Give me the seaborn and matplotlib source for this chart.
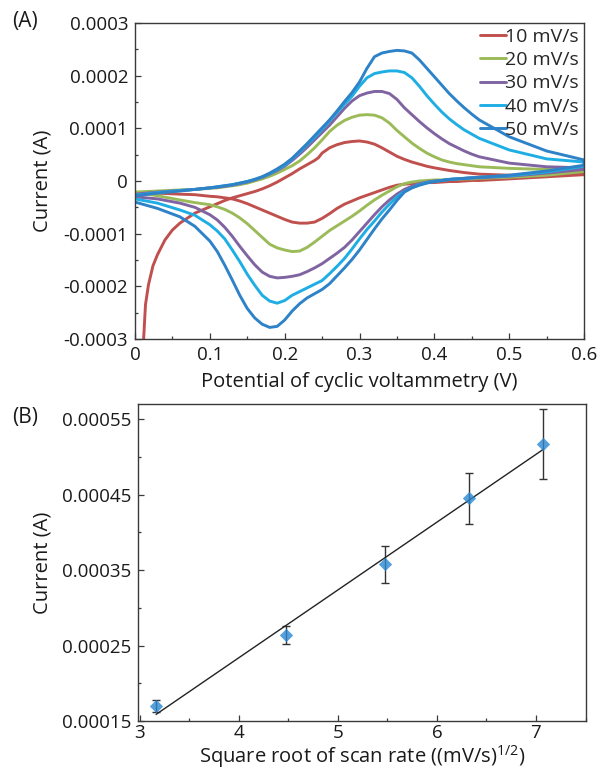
import numpy as np
import pandas as pd
import matplotlib
matplotlib.use("Agg")
import matplotlib.pyplot as plt
import seaborn as sns
from matplotlib.ticker import MultipleLocator, FixedLocator

# ---------------- Panel A : cyclic voltammograms ----------------
# current values in units of 1e-4 A
rates = ["10 mV/s", "20 mV/s", "30 mV/s", "40 mV/s", "50 mV/s"]
colors = ["#C0504D", "#9BBB59", "#8064A2", "#1EAEE4", "#2D82C8"]

E_grid = ([0.00, 0.03, 0.06, 0.08]
          + [0.10, 0.11, 0.12, 0.13, 0.14, 0.15, 0.16, 0.17, 0.18, 0.19]
          + [0.20, 0.21, 0.22, 0.23, 0.24, 0.25, 0.26, 0.27, 0.28, 0.29]
          + [0.30, 0.31, 0.32, 0.33, 0.34, 0.35, 0.36, 0.37, 0.38, 0.39]
          + [0.40, 0.41, 0.42, 0.43, 0.44, 0.45, 0.46]
          + [0.50, 0.55, 0.60])

# 10 mV/s forward sweep (own potentials: starts with a charging transient)
E_red_up = [0.010, 0.014, 0.018, 0.024, 0.03, 0.04, 0.05, 0.06, 0.08, 0.10,
            0.11, 0.12, 0.13, 0.14, 0.15, 0.16, 0.17, 0.18, 0.19, 0.20, 0.21, 0.22, 0.23, 0.24,
            0.245, 0.25,
            0.26, 0.27, 0.28, 0.29, 0.30, 0.31, 0.32, 0.33, 0.34, 0.35, 0.36, 0.37, 0.38, 0.39, 0.40,
            0.42, 0.44, 0.46, 0.50, 0.55, 0.60]
I_red_up = [-3.4, -2.35, -1.97, -1.61, -1.40, -1.12, -0.93, -0.80, -0.61, -0.49,
            -0.43, -0.37, -0.32, -0.28, -0.24, -0.20, -0.15, -0.09, -0.02, 0.06, 0.14, 0.23, 0.31, 0.39,
            0.44, 0.53,
            0.63, 0.69, 0.73, 0.75, 0.76, 0.74, 0.70, 0.63, 0.55, 0.47, 0.41, 0.36, 0.32, 0.28, 0.25,
            0.20, 0.16, 0.13, 0.11, 0.12, 0.14]
I_red_dn = ([-0.23, -0.23, -0.25, -0.26]
            + [-0.29, -0.30, -0.32, -0.34, -0.38, -0.43, -0.49, -0.55, -0.61, -0.67]
            + [-0.73, -0.78, -0.80, -0.80, -0.78, -0.71, -0.62, -0.52, -0.44, -0.38]
            + [-0.32, -0.27, -0.22, -0.17, -0.12, -0.08, -0.06, -0.05, -0.04, -0.03]
            + [-0.03, -0.02, -0.01, -0.01, 0.00, 0.01, 0.01]
            + [0.04, 0.08, 0.12])

I_green_up = ([-0.21, -0.19, -0.17, -0.16]
              + [-0.14, -0.13, -0.11, -0.09, -0.07, -0.04, 0.00, 0.04, 0.09, 0.15]
              + [0.22, 0.29, 0.38, 0.50, 0.63, 0.78, 0.94, 1.06, 1.15, 1.21]
              + [1.25, 1.26, 1.25, 1.20, 1.10, 0.96, 0.84, 0.72, 0.62, 0.53]
              + [0.46, 0.40, 0.36, 0.33, 0.31, 0.29, 0.27]
              + [0.24, 0.22, 0.21])
I_green_dn = ([-0.21, -0.28, -0.36, -0.41]
              + [-0.45, -0.49, -0.54, -0.61, -0.70, -0.81, -0.94, -1.07, -1.20, -1.27]
              + [-1.31, -1.34, -1.33, -1.26, -1.16, -1.05, -0.94, -0.85, -0.76, -0.67]
              + [-0.57, -0.46, -0.36, -0.27, -0.19, -0.11, -0.05, -0.02, 0.00, 0.01]
              + [0.02, 0.02, 0.03, 0.03, 0.04, 0.04, 0.05]
              + [0.07, 0.11, 0.18])

I_purple_up = ([-0.25, -0.21, -0.18, -0.16]
               + [-0.13, -0.12, -0.10, -0.08, -0.05, -0.02, 0.02, 0.07, 0.13, 0.20]
               + [0.28, 0.39, 0.51, 0.64, 0.78, 0.92, 1.06, 1.22, 1.38, 1.52]
               + [1.62, 1.67, 1.70, 1.70, 1.66, 1.55, 1.39, 1.26, 1.13, 1.01]
               + [0.90, 0.80, 0.71, 0.64, 0.57, 0.51, 0.46]
               + [0.34, 0.27, 0.25])
I_purple_dn = ([-0.30, -0.34, -0.42, -0.50]
               + [-0.64, -0.74, -0.88, -1.05, -1.24, -1.42, -1.59, -1.73, -1.81, -1.84]
               + [-1.83, -1.81, -1.78, -1.72, -1.65, -1.57, -1.47, -1.37, -1.26, -1.12]
               + [-0.96, -0.80, -0.64, -0.49, -0.36, -0.25, -0.16, -0.10, -0.05, -0.02]
               + [0.00, 0.01, 0.03, 0.04, 0.05, 0.06, 0.06]
               + [0.09, 0.15, 0.22])

I_cyan_up = ([-0.27, -0.22, -0.18, -0.16]
             + [-0.13, -0.11, -0.09, -0.07, -0.04, -0.01, 0.03, 0.08, 0.14, 0.22]
             + [0.30, 0.42, 0.55, 0.69, 0.83, 0.98, 1.14, 1.30, 1.46, 1.61]
             + [1.80, 1.96, 2.04, 2.07, 2.09, 2.09, 2.06, 1.96, 1.80, 1.62]
             + [1.46, 1.31, 1.18, 1.07, 0.97, 0.89, 0.81]
             + [0.59, 0.42, 0.36])
I_cyan_dn = ([-0.34, -0.42, -0.55, -0.65]
             + [-0.83, -0.95, -1.10, -1.31, -1.53, -1.77, -1.98, -2.17, -2.28, -2.32]
             + [-2.27, -2.17, -2.10, -2.03, -1.96, -1.89, -1.76, -1.62, -1.47, -1.29]
             + [-1.10, -0.92, -0.76, -0.59, -0.44, -0.30, -0.20, -0.13, -0.07, -0.03]
             + [-0.01, 0.01, 0.03, 0.04, 0.05, 0.06, 0.07]
             + [0.10, 0.17, 0.28])

I_blue_up = ([-0.28, -0.23, -0.19, -0.16]
             + [-0.13, -0.11, -0.09, -0.07, -0.04, -0.01, 0.03, 0.08, 0.15, 0.23]
             + [0.32, 0.43, 0.57, 0.71, 0.86, 1.01, 1.16, 1.33, 1.51, 1.68]
             + [1.88, 2.14, 2.36, 2.43, 2.46, 2.48, 2.47, 2.43, 2.30, 2.14]
             + [1.98, 1.82, 1.66, 1.52, 1.39, 1.27, 1.16]
             + [0.84, 0.57, 0.40])
I_blue_dn = ([-0.40, -0.52, -0.68, -0.86]
             + [-1.14, -1.34, -1.60, -1.88, -2.17, -2.42, -2.60, -2.72, -2.78, -2.76]
             + [-2.64, -2.47, -2.33, -2.22, -2.14, -2.06, -1.95, -1.80, -1.65, -1.49]
             + [-1.31, -1.11, -0.91, -0.72, -0.55, -0.37, -0.21, -0.13, -0.08, -0.04]
             + [-0.01, 0.01, 0.03, 0.04, 0.05, 0.06, 0.07]
             + [0.11, 0.19, 0.30])

# ---------------- Panel B : peak current vs sqrt(scan rate) ----------------
scan_rate = [10, 20, 30, 40, 50]                                     # mV/s
peak_current = [0.000170, 0.000264, 0.000358, 0.000445, 0.000517]   # A
peak_err = [0.0000083, 0.0000125, 0.0000245, 0.0000335, 0.000047]   # A

# tick labels
a_xticks = [0, 0.1, 0.2, 0.3, 0.4, 0.5, 0.6]
a_xlabels = ["0", "0.1", "0.2", "0.3", "0.4", "0.5", "0.6"]
a_yticks = [-0.0003, -0.0002, -0.0001, 0, 0.0001, 0.0002, 0.0003]
a_ylabels = ["-0.0003", "-0.0002", "-0.0001", "0", "0.0001", "0.0002", "0.0003"]
b_xticks = [3, 4, 5, 6, 7]
b_yticks = [0.00015, 0.00025, 0.00035, 0.00045, 0.00055]
b_ylabels = ["0.00015", "0.00025", "0.00035", "0.00045", "0.00055"]

# ---------------- build table for panel A ----------------
ups = [I_red_up, I_green_up, I_purple_up, I_cyan_up, I_blue_up]
dns = [I_red_dn, I_green_dn, I_purple_dn, I_cyan_dn, I_blue_dn]
rows = []
for k, rate in enumerate(rates):
    e_up = E_red_up if k == 0 else E_grid
    assert len(e_up) == len(ups[k]) and len(E_grid) == len(dns[k]), rate
    path_e = list(e_up) + list(E_grid[::-1])
    path_i = list(ups[k]) + list(dns[k][::-1])
    for j, (e, i) in enumerate(zip(path_e, path_i)):
        rows.append({"E": e, "I": i * 1e-4, "rate": rate, "order": j})
cv = pd.DataFrame(rows)

sr = pd.DataFrame({"x": np.sqrt(scan_rate), "y": peak_current, "err": peak_err})

# ---------------- style ----------------
sns.set_style("ticks")
plt.rcParams["font.family"] = ["Open Sans", "DejaVu Sans"]
plt.rcParams["mathtext.default"] = "regular"
spine_c = "#3a3a3a"
FS_T = 13.5   # tick labels
FS_L = 14.5   # axis labels
FS_G = 14     # legend

fig = plt.figure(figsize=(6.03, 7.70), dpi=100)
axA = fig.add_axes([135 / 603, 1 - 339 / 770, 449 / 603, 316 / 770])
axB = fig.add_axes([138 / 603, 1 - 721 / 770, 447.5 / 603, 317 / 770])

# ----- Panel A -----
sns.lineplot(data=cv, x="E", y="I", hue="rate", palette=colors, sort=False,
             estimator=None, units="rate", lw=2.1, ax=axA)
axA.set_xlim(0, 0.6)
axA.set_ylim(-0.0003, 0.0003)
axA.set_xticks(a_xticks)
axA.set_xticklabels(a_xlabels)
axA.set_yticks(a_yticks)
axA.set_yticklabels(a_ylabels)
axA.xaxis.set_minor_locator(MultipleLocator(0.05))
axA.yaxis.set_minor_locator(MultipleLocator(0.00005))
axA.set_xlabel("Potential of cyclic voltammetry (V)", fontsize=FS_L, labelpad=6)
axA.set_ylabel("Current (A)", fontsize=FS_L)
axA.yaxis.set_label_coords(-0.183, 0.5)
sns.move_legend(axA, "upper right", frameon=False, title=None, fontsize=FS_G,
                handlelength=1.35, handletextpad=-0.05, labelspacing=0.27,
                borderaxespad=0.1, borderpad=0.15)

# ----- Panel B -----
axB.errorbar(sr["x"], sr["y"], yerr=sr["err"], fmt="none", ecolor="#333333",
             elinewidth=1.0, capsize=3, capthick=1.0, zorder=2)
sns.regplot(data=sr, x="x", y="y", ci=None, ax=axB, marker="D",
            scatter_kws={"color": "#2B87D1", "s": 46, "zorder": 3, "linewidths": 0},
            line_kws={"color": "#222222", "lw": 1.0, "zorder": 2})
axB.set_xlim(2.98, 7.5)
axB.set_ylim(0.00015, 0.00057)
axB.set_xticks(b_xticks)
axB.set_xticklabels([str(t) for t in b_xticks])
axB.set_yticks(b_yticks)
axB.set_yticklabels(b_ylabels)
axB.xaxis.set_minor_locator(MultipleLocator(0.5))
axB.yaxis.set_minor_locator(FixedLocator([0.0002, 0.0003, 0.0004, 0.0005]))
axB.set_xlabel(r"Square root of scan rate ((mV/s)$^{1/2}$)", fontsize=FS_L, labelpad=1)
axB.set_ylabel("Current (A)", fontsize=FS_L)
axB.yaxis.set_label_coords(-0.19, 0.5)

for ax in (axA, axB):
    for s in ax.spines.values():
        s.set_color(spine_c)
        s.set_linewidth(1.0)
        s.set_visible(True)
    ax.tick_params(which="both", direction="in", colors=spine_c, labelcolor="#1a1a1a",
                   labelsize=FS_T, width=0.9)
    ax.tick_params(which="major", length=4.5, pad=5)
    ax.tick_params(which="minor", length=2.5)
    ax.xaxis.label.set_color("#1a1a1a")
    ax.yaxis.label.set_color("#1a1a1a")
axB.tick_params(axis="x", which="major", pad=2)

fig.text(12 / 603, 1 - 22 / 770, "(A)", fontsize=15, va="center", ha="left", color="#1a1a1a")
fig.text(12 / 603, 1 - 417 / 770, "(B)", fontsize=15, va="center", ha="left", color="#1a1a1a")

fig.savefig("out.png", dpi=100)
